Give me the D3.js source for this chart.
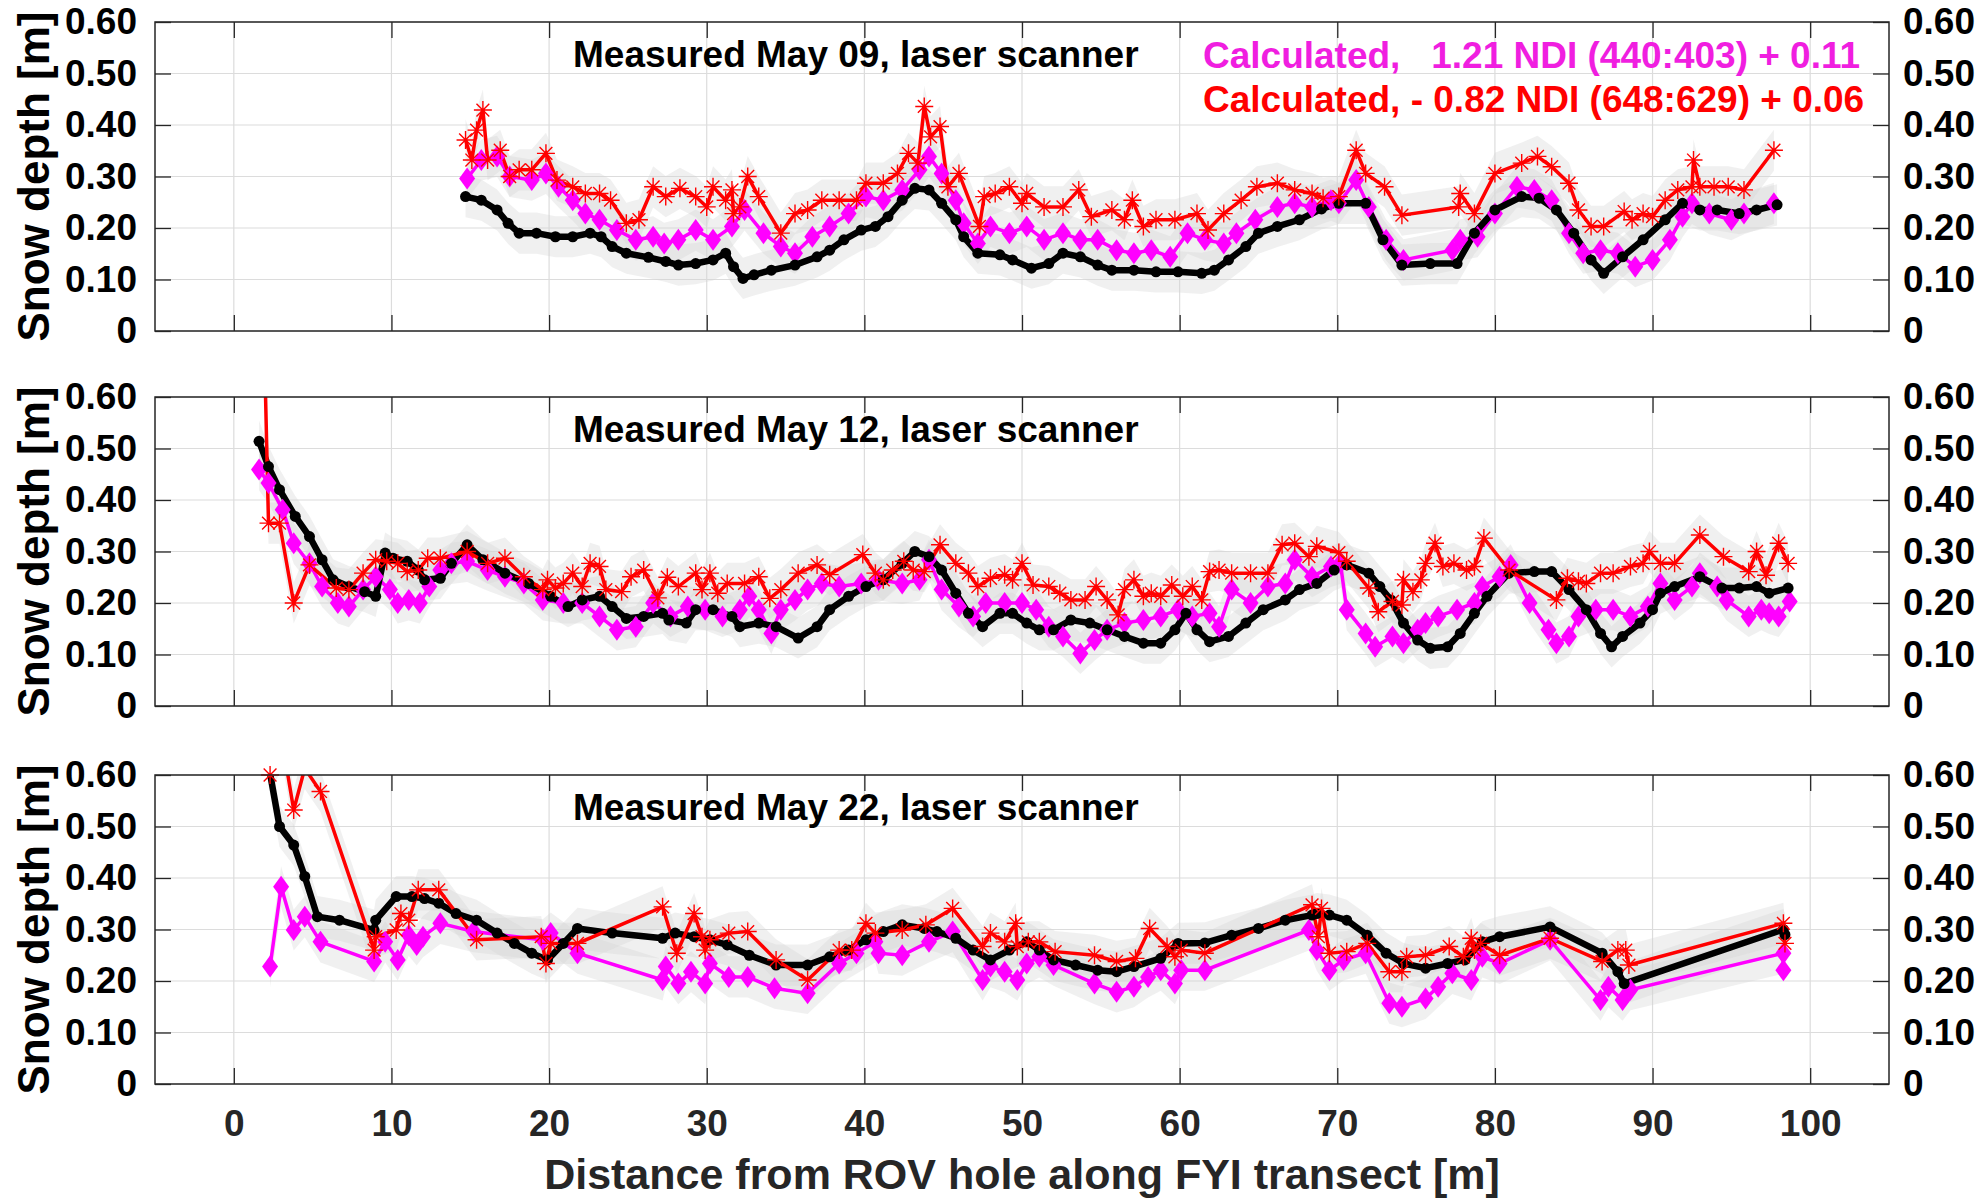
<!DOCTYPE html>
<html lang="en">
<head>
<meta charset="utf-8">
<title>Snow depth along FYI transect</title>
<script src="https://cdn.jsdelivr.net/npm/d3@7"></script>
<style>
  body { margin: 0; background: #fff; }
  svg { font-family: "Liberation Sans", Arial, Helvetica, sans-serif; font-weight: bold; }
  .grid line { stroke: #dcdcdc; stroke-width: 1.2; }
  .axis path { display: none; }
  .axis line { stroke: #262626; stroke-width: 1.3; }
  .ylab text { fill: #000; font-size: 37px; }
  .xlab text { fill: #262626; font-size: 37px; }
</style>
</head>
<body>
<script>
// ---- data: [distance m, snow depth m] ----
var xTicks = [0, 10, 20, 30, 40, 50, 60, 70, 80, 90, 100];
var yTicks = [0, 0.1, 0.2, 0.3, 0.4, 0.5, 0.6];
var yTickLabels = ["0", "0.10", "0.20", "0.30", "0.40", "0.50", "0.60"];

var titles = ["Measured May 09, laser scanner", "Measured May 12, laser scanner", "Measured May 22, laser scanner"];
var legendMagenta = "Calculated,   1.21 NDI (440:403) + 0.11";
var legendRed = "Calculated, - 0.82 NDI (648:629) + 0.06";

var may09Measured = [[14.7,0.261],[15.7,0.254],[16.7,0.235],[17.4,0.209],[18.1,0.190],[19.2,0.190],[20.4,0.183],[21.5,0.183],[22.6,0.190],[23.3,0.183],[24.0,0.164],[24.9,0.151],[26.3,0.143],[27.4,0.135],[28.2,0.128],[29.3,0.131],[30.4,0.138],[31.2,0.151],[31.7,0.125],[32.3,0.102],[33.0,0.109],[34.1,0.118],[35.6,0.128],[37.0,0.144],[37.8,0.157],[38.7,0.177],[39.8,0.196],[40.7,0.203],[41.5,0.222],[42.4,0.254],[43.2,0.277],[44.1,0.274],[44.9,0.248],[45.8,0.216],[46.3,0.183],[47.2,0.151],[48.6,0.148],[49.4,0.138],[50.6,0.122],[51.7,0.131],[52.6,0.151],[53.7,0.144],[54.8,0.128],[55.7,0.118],[57.1,0.118],[58.5,0.115],[59.9,0.115],[61.4,0.112],[62.2,0.118],[63.1,0.138],[64.2,0.164],[65.0,0.190],[66.2,0.203],[67.6,0.216],[69.0,0.237],[70.1,0.248],[71.8,0.248],[72.9,0.177],[74.1,0.128],[75.9,0.131],[77.6,0.131],[78.7,0.190],[80.0,0.235],[81.7,0.261],[82.8,0.258],[83.9,0.235],[85.0,0.190],[86.1,0.138],[86.9,0.112],[88.1,0.144],[89.4,0.177],[90.8,0.216],[91.9,0.248],[93.0,0.235],[94.1,0.235],[95.5,0.228],[96.6,0.235],[97.9,0.245]];
var may09Ndi440 = [[14.8,0.296],[15.7,0.332],[16.7,0.339],[17.5,0.300],[18.9,0.293],[19.8,0.306],[20.6,0.280],[21.5,0.254],[22.3,0.228],[23.2,0.216],[24.3,0.196],[25.5,0.177],[26.6,0.183],[27.3,0.170],[28.2,0.177],[29.3,0.196],[30.4,0.177],[31.6,0.203],[32.4,0.235],[33.6,0.190],[34.7,0.164],[35.6,0.151],[36.7,0.183],[37.8,0.203],[39.0,0.228],[40.1,0.261],[41.2,0.254],[42.4,0.274],[43.5,0.313],[44.1,0.339],[44.9,0.306],[45.8,0.254],[46.3,0.209],[47.2,0.170],[48.0,0.203],[49.2,0.190],[50.3,0.203],[51.4,0.177],[52.6,0.190],[53.7,0.177],[54.8,0.177],[56.0,0.157],[57.1,0.151],[58.2,0.157],[59.4,0.144],[60.5,0.190],[61.6,0.177],[62.8,0.170],[63.6,0.190],[64.8,0.216],[66.2,0.241],[67.3,0.248],[68.4,0.241],[69.6,0.254],[70.1,0.248],[71.2,0.293],[72.0,0.241],[73.1,0.177],[74.2,0.138],[77.3,0.157],[77.8,0.177],[78.9,0.183],[80.0,0.228],[81.4,0.280],[82.5,0.274],[83.6,0.254],[84.7,0.190],[85.6,0.151],[86.7,0.157],[87.8,0.151],[88.9,0.125],[90.0,0.138],[91.1,0.177],[91.9,0.222],[92.5,0.248],[93.6,0.228],[95.0,0.216],[95.8,0.228],[97.7,0.248]];
var may09Ndi648 = [[14.7,0.371],[15.1,0.332],[15.4,0.390],[15.8,0.429],[16.1,0.332],[16.9,0.351],[17.5,0.300],[18.1,0.313],[18.9,0.313],[19.8,0.345],[20.5,0.293],[21.5,0.280],[22.3,0.267],[23.2,0.267],[23.9,0.254],[24.9,0.209],[25.7,0.216],[26.6,0.280],[27.4,0.261],[28.3,0.277],[29.3,0.261],[30.0,0.241],[30.4,0.280],[31.2,0.254],[31.6,0.274],[31.7,0.228],[32.1,0.241],[32.6,0.300],[33.3,0.261],[34.7,0.190],[35.6,0.228],[36.4,0.235],[37.3,0.254],[38.4,0.254],[39.5,0.254],[40.1,0.287],[41.2,0.287],[42.1,0.306],[42.8,0.345],[43.4,0.326],[43.8,0.436],[44.2,0.377],[44.8,0.397],[45.3,0.280],[46.0,0.306],[47.3,0.203],[47.6,0.261],[48.3,0.267],[49.2,0.280],[50.0,0.248],[50.3,0.267],[51.4,0.241],[52.6,0.241],[53.6,0.274],[54.4,0.222],[55.7,0.235],[56.5,0.216],[57.0,0.254],[57.7,0.203],[58.5,0.216],[59.7,0.216],[61.1,0.228],[61.8,0.196],[62.8,0.228],[63.9,0.254],[64.9,0.280],[66.2,0.287],[67.3,0.274],[68.4,0.267],[69.1,0.258],[70.1,0.261],[71.2,0.351],[71.8,0.306],[73.0,0.280],[74.1,0.225],[77.7,0.241],[77.8,0.267],[78.7,0.228],[80.0,0.306],[81.7,0.326],[82.7,0.339],[83.6,0.319],[84.7,0.287],[85.3,0.235],[86.1,0.203],[86.9,0.203],[88.2,0.232],[88.7,0.216],[89.4,0.228],[90.0,0.222],[90.8,0.254],[91.6,0.274],[92.5,0.280],[92.6,0.332],[93.0,0.280],[93.9,0.280],[94.8,0.280],[95.8,0.274],[97.7,0.351]];

var may12Measured = [[1.6,0.514],[2.2,0.465],[2.9,0.420],[3.9,0.368],[4.8,0.329],[5.6,0.284],[6.3,0.245],[7.3,0.232],[8.3,0.222],[9.0,0.213],[9.6,0.297],[10.1,0.287],[11.0,0.281],[11.7,0.264],[12.1,0.245],[13.1,0.248],[13.8,0.277],[14.8,0.313],[15.8,0.284],[17.2,0.258],[18.7,0.238],[20.1,0.213],[21.2,0.193],[22.1,0.206],[23.2,0.213],[24.0,0.193],[24.9,0.170],[26.0,0.174],[27.2,0.180],[27.6,0.167],[28.7,0.161],[29.3,0.187],[30.4,0.187],[31.6,0.174],[32.1,0.154],[33.3,0.161],[34.4,0.154],[35.8,0.132],[37.0,0.154],[37.8,0.187],[39.0,0.213],[40.1,0.232],[41.2,0.245],[42.4,0.277],[43.2,0.300],[44.1,0.290],[44.9,0.264],[45.8,0.219],[46.6,0.180],[47.5,0.154],[48.6,0.180],[49.4,0.180],[50.3,0.161],[51.1,0.148],[52.0,0.148],[53.1,0.167],[54.3,0.161],[55.4,0.148],[56.5,0.135],[57.7,0.122],[58.8,0.122],[59.7,0.148],[60.4,0.180],[61.1,0.148],[61.9,0.125],[63.1,0.135],[64.2,0.161],[65.3,0.187],[66.7,0.206],[67.6,0.226],[68.7,0.238],[69.8,0.264],[70.6,0.274],[72.0,0.258],[72.7,0.232],[73.4,0.206],[74.2,0.161],[75.1,0.128],[75.9,0.112],[77.0,0.115],[77.8,0.141],[78.7,0.180],[79.5,0.213],[80.9,0.258],[82.5,0.261],[83.6,0.261],[84.7,0.226],[85.8,0.187],[86.7,0.141],[87.4,0.115],[88.1,0.135],[89.2,0.161],[90.0,0.187],[90.5,0.219],[91.4,0.232],[93.0,0.251],[94.4,0.229],[95.5,0.229],[96.6,0.232],[97.4,0.219],[98.6,0.229]];
var may12Ndi440 = [[1.6,0.459],[2.2,0.433],[3.1,0.381],[3.8,0.316],[4.8,0.277],[5.6,0.232],[6.6,0.200],[7.3,0.193],[8.2,0.226],[9.0,0.251],[9.9,0.226],[10.4,0.200],[11.1,0.206],[11.8,0.200],[12.4,0.232],[13.1,0.264],[13.8,0.277],[14.8,0.281],[16.1,0.264],[17.2,0.251],[18.4,0.238],[19.6,0.206],[20.9,0.200],[22.1,0.200],[23.2,0.174],[24.3,0.148],[25.5,0.154],[26.6,0.200],[27.7,0.174],[28.8,0.193],[29.9,0.187],[31.0,0.174],[32.1,0.187],[32.7,0.213],[33.3,0.187],[34.1,0.141],[34.7,0.187],[35.6,0.206],[36.4,0.226],[37.3,0.238],[38.4,0.232],[39.8,0.238],[40.9,0.245],[42.4,0.238],[43.5,0.245],[44.1,0.284],[44.9,0.226],[46.0,0.193],[46.9,0.174],[47.7,0.200],[48.9,0.200],[50.0,0.200],[50.9,0.187],[51.7,0.154],[52.6,0.135],[53.7,0.102],[54.6,0.128],[55.4,0.148],[56.5,0.161],[57.7,0.167],[58.8,0.174],[59.9,0.187],[60.8,0.174],[61.9,0.180],[62.5,0.154],[63.3,0.226],[64.5,0.200],[65.6,0.232],[66.7,0.238],[67.3,0.284],[68.4,0.251],[69.6,0.271],[70.2,0.277],[70.6,0.187],[71.8,0.141],[72.4,0.115],[73.5,0.135],[74.2,0.122],[75.1,0.148],[75.6,0.161],[76.4,0.174],[77.6,0.187],[78.7,0.200],[79.2,0.232],[80.3,0.251],[81.0,0.274],[82.2,0.200],[83.4,0.148],[83.9,0.122],[84.7,0.135],[85.3,0.174],[86.4,0.187],[87.5,0.187],[88.6,0.174],[89.7,0.193],[90.5,0.238],[91.4,0.206],[92.5,0.232],[93.0,0.258],[94.1,0.232],[94.7,0.206],[96.1,0.174],[96.9,0.187],[97.4,0.180],[98.0,0.174],[98.7,0.203]];
var may12Ndi648 = [[1.9,0.75],[2.2,0.355],[2.9,0.355],[3.8,0.200],[4.8,0.274],[6.5,0.229],[7.3,0.226],[8.2,0.258],[9.0,0.284],[9.7,0.281],[10.4,0.277],[11.0,0.261],[11.7,0.264],[12.3,0.287],[13.1,0.287],[14.8,0.300],[16.1,0.277],[17.2,0.287],[18.4,0.251],[19.6,0.226],[19.9,0.245],[20.4,0.229],[20.9,0.238],[21.5,0.258],[22.1,0.232],[22.6,0.277],[23.2,0.271],[23.6,0.226],[24.6,0.222],[25.2,0.251],[26.0,0.264],[26.9,0.210],[27.5,0.250],[28.2,0.232],[29.3,0.258],[29.7,0.226],[30.2,0.258],[30.7,0.219],[31.3,0.238],[32.4,0.238],[33.3,0.251],[34.0,0.209],[34.7,0.226],[35.8,0.258],[37.0,0.274],[37.8,0.255],[39.9,0.294],[40.7,0.258],[41.2,0.245],[41.8,0.264],[42.5,0.281],[43.1,0.264],[43.8,0.261],[44.8,0.313],[45.8,0.277],[46.6,0.258],[47.2,0.232],[48.0,0.248],[48.9,0.255],[49.4,0.245],[50.0,0.277],[50.7,0.235],[51.7,0.232],[52.4,0.219],[53.1,0.206],[54.0,0.206],[54.7,0.232],[55.4,0.206],[56.1,0.177],[56.5,0.226],[57.1,0.245],[57.7,0.213],[58.2,0.219],[58.8,0.213],[59.5,0.235],[60.2,0.213],[60.8,0.232],[61.4,0.206],[61.9,0.261],[62.5,0.264],[63.3,0.258],[64.5,0.258],[65.6,0.258],[66.5,0.313],[67.3,0.316],[68.2,0.290],[68.7,0.310],[70.1,0.298],[70.6,0.281],[72.0,0.229],[72.6,0.183],[73.5,0.203],[74.1,0.196],[74.2,0.245],[74.8,0.222],[75.3,0.245],[75.6,0.277],[76.2,0.316],[76.7,0.271],[77.4,0.277],[78.2,0.264],[78.7,0.271],[79.3,0.326],[80.9,0.264],[83.9,0.206],[84.6,0.248],[85.3,0.242],[85.8,0.238],[86.7,0.258],[87.5,0.258],[88.6,0.271],[89.4,0.277],[89.8,0.300],[90.5,0.277],[91.4,0.277],[93.0,0.332],[94.5,0.290],[96.1,0.261],[96.6,0.300],[97.2,0.254],[98.0,0.316],[98.6,0.277]];

var may22Measured = [[2.2,0.620],[2.9,0.500],[3.8,0.464],[4.5,0.403],[5.3,0.325],[6.7,0.318],[8.9,0.299],[9.0,0.318],[10.3,0.364],[11.3,0.364],[12.1,0.360],[13.0,0.351],[14.1,0.331],[15.4,0.318],[16.7,0.293],[17.8,0.273],[18.9,0.254],[19.9,0.241],[20.9,0.273],[21.8,0.302],[24.0,0.293],[27.2,0.283],[28.0,0.293],[29.2,0.286],[30.2,0.280],[31.3,0.270],[32.7,0.250],[34.4,0.231],[36.4,0.231],[37.8,0.247],[39.0,0.260],[40.1,0.280],[41.2,0.296],[42.4,0.309],[43.8,0.302],[44.6,0.296],[45.8,0.283],[46.9,0.260],[48.0,0.241],[49.2,0.260],[50.3,0.276],[51.1,0.260],[52.0,0.241],[53.4,0.231],[54.8,0.221],[56.0,0.218],[57.1,0.228],[58.8,0.244],[59.9,0.273],[61.6,0.274],[63.3,0.289],[65.0,0.302],[66.7,0.318],[68.4,0.328],[68.7,0.331],[69.5,0.328],[70.6,0.318],[71.9,0.289],[73.1,0.254],[74.2,0.234],[75.6,0.225],[77.0,0.234],[78.1,0.241],[79.2,0.276],[80.3,0.286],[83.5,0.305],[86.8,0.254],[87.8,0.218],[88.2,0.195],[98.3,0.300],[98.4,0.290]];
var may22Ndi440 = [[2.3,0.228],[3.0,0.383],[3.8,0.299],[4.5,0.325],[5.5,0.276],[8.9,0.238],[9.6,0.276],[10.4,0.241],[11.1,0.289],[11.6,0.270],[12.0,0.286],[13.1,0.312],[15.2,0.296],[19.6,0.280],[20.1,0.293],[21.8,0.254],[27.2,0.202],[27.4,0.228],[28.2,0.195],[29.0,0.218],[29.9,0.195],[30.2,0.234],[31.4,0.208],[32.6,0.208],[34.3,0.186],[36.4,0.176],[38.4,0.234],[39.5,0.254],[40.7,0.276],[40.9,0.254],[42.4,0.250],[44.1,0.276],[45.6,0.296],[47.5,0.202],[48.0,0.228],[48.9,0.218],[49.7,0.202],[50.3,0.234],[51.1,0.247],[52.0,0.231],[54.6,0.195],[56.0,0.179],[57.1,0.189],[58.0,0.208],[58.8,0.221],[59.7,0.195],[60.1,0.221],[61.6,0.221],[68.2,0.299],[68.7,0.260],[69.5,0.221],[70.4,0.241],[71.8,0.254],[73.3,0.157],[74.1,0.150],[75.6,0.166],[76.4,0.189],[77.3,0.215],[78.5,0.202],[79.2,0.247],[80.3,0.234],[83.5,0.280],[86.7,0.163],[87.2,0.189],[88.1,0.163],[88.6,0.183],[98.3,0.254],[98.3,0.221]];
var may22Ndi648 = [[2.3,0.600],[3.1,0.660],[3.8,0.532],[4.5,0.613],[5.5,0.568],[8.9,0.260],[9.0,0.286],[10.3,0.299],[10.6,0.331],[11.1,0.318],[11.7,0.377],[13.0,0.377],[15.4,0.280],[19.5,0.286],[19.8,0.234],[20.1,0.273],[21.8,0.273],[27.2,0.344],[28.1,0.254],[29.2,0.331],[29.7,0.286],[29.9,0.260],[30.2,0.280],[31.4,0.293],[32.6,0.296],[34.4,0.241],[36.4,0.202],[38.4,0.260],[39.2,0.260],[40.1,0.312],[40.7,0.293],[42.4,0.299],[43.9,0.309],[45.6,0.341],[47.5,0.267],[48.0,0.293],[48.9,0.276],[49.6,0.312],[49.7,0.267],[50.4,0.276],[51.1,0.276],[52.1,0.257],[54.6,0.250],[56.0,0.238],[57.2,0.244],[58.1,0.302],[59.2,0.267],[59.7,0.247],[60.1,0.260],[61.6,0.254],[68.4,0.348],[68.8,0.286],[69.0,0.341],[69.5,0.254],[70.6,0.257],[71.9,0.273],[73.3,0.218],[74.1,0.218],[74.4,0.247],[75.6,0.250],[77.1,0.267],[78.0,0.247],[78.5,0.283],[78.7,0.260],[79.1,0.273],[80.3,0.250],[83.5,0.283],[86.8,0.238],[87.8,0.260],[88.3,0.260],[88.5,0.231],[98.3,0.312],[98.4,0.273]];

var panels = [
  { measured: may09Measured, ndi440: may09Ndi440, ndi648: may09Ndi648 },
  { measured: may12Measured, ndi440: may12Ndi440, ndi648: may12Ndi648 },
  { measured: may22Measured, ndi440: may22Ndi440, ndi648: may22Ndi648 }
];

// grey envelope half width around each curve
var spread = 0.04;

var w = 1982, h = 1200;
var left = 155, right = 1889, panelH = 309;
var panelTops = [22, 397, 775];
var tick = 16;

var svg = d3.select("body").append("svg")
    .attr("width", w)
    .attr("height", h);

var xScale = d3.scaleLinear().domain([-5, 105]).range([left, right]);

var diamond = "M0,-11L8,0L0,11L-8,0Z";
var asterisk = "M-9,0H9M0,-9V9M-6.4,-6.4L6.4,6.4M-6.4,6.4L6.4,-6.4";

panels.forEach(function(p, i) {
  var top = panelTops[i], bottom = top + panelH;
  var yScale = d3.scaleLinear().domain([0, 0.6]).range([bottom, top]);
  var g = svg.append("g");

  g.append("clipPath").attr("id", "clip" + i)
    .append("rect")
      .attr("x", left).attr("y", top)
      .attr("width", right - left).attr("height", panelH);

  // grid
  var grid = g.append("g").attr("class", "grid");
  grid.selectAll(".gx").data(xTicks).enter().append("line")
      .attr("x1", function(d) { return xScale(d); })
      .attr("x2", function(d) { return xScale(d); })
      .attr("y1", top).attr("y2", bottom);
  grid.selectAll(".gy").data(yTicks).enter().append("line")
      .attr("x1", left).attr("x2", right)
      .attr("y1", function(d) { return yScale(d); })
      .attr("y2", function(d) { return yScale(d); });

  var plot = g.append("g").attr("clip-path", "url(#clip" + i + ")");

  var band = d3.area()
      .x(function(d) { return xScale(d[0]); })
      .y0(function(d) { return yScale(d[1] - spread); })
      .y1(function(d) { return yScale(d[1] + spread); });

  [p.ndi440, p.measured, p.ndi648].forEach(function(s) {
    plot.append("path")
        .datum(s)
        .attr("d", band)
        .attr("fill", "#d4d4d4")
        .attr("fill-opacity", 0.35);
  });

  var line = d3.line()
      .x(function(d) { return xScale(d[0]); })
      .y(function(d) { return yScale(d[1]); });

  function inside(s) { return s.filter(function(d) { return d[1] <= 0.61; }); }

  // magenta: NDI (440:403)
  plot.append("path").datum(p.ndi440).attr("d", line)
      .attr("fill", "none").attr("stroke", "#ff00ff").attr("stroke-width", 3.5);
  g.selectAll(".dm").data(inside(p.ndi440)).enter().append("path")
      .attr("d", diamond)
      .attr("transform", function(d) { return "translate(" + xScale(d[0]) + "," + yScale(d[1]) + ")"; })
      .attr("fill", "#ff00ff");

  // black: laser scanner
  plot.append("path").datum(p.measured).attr("d", line)
      .attr("fill", "none").attr("stroke", "#000").attr("stroke-width", 6.5)
      .attr("stroke-linejoin", "round");
  g.selectAll(".dk").data(inside(p.measured)).enter().append("circle")
      .attr("cx", function(d) { return xScale(d[0]); })
      .attr("cy", function(d) { return yScale(d[1]); })
      .attr("r", 5.5)
      .attr("fill", "#000");

  // red: NDI (648:629)
  plot.append("path").datum(p.ndi648).attr("d", line)
      .attr("fill", "none").attr("stroke", "#ff0000").attr("stroke-width", 3.5);
  g.selectAll(".dr").data(inside(p.ndi648)).enter().append("path")
      .attr("d", asterisk)
      .attr("transform", function(d) { return "translate(" + xScale(d[0]) + "," + yScale(d[1]) + ")"; })
      .attr("fill", "none")
      .attr("stroke", "#ff0000")
      .attr("stroke-width", 1.4);

  // box
  g.append("rect")
      .attr("x", left).attr("y", top)
      .attr("width", right - left).attr("height", panelH)
      .attr("fill", "none").attr("stroke", "#262626").attr("stroke-width", 1.5);

  // axes, ticks pointing inward
  g.append("g").attr("class", "axis ylab")
      .attr("transform", "translate(" + left + ",0)")
      .call(d3.axisLeft(yScale).tickValues(yTicks)
        .tickFormat(function(d, k) { return yTickLabels[k]; })
        .tickSizeInner(-tick).tickSizeOuter(0).tickPadding(18));

  g.append("g").attr("class", "axis ylab")
      .attr("transform", "translate(" + right + ",0)")
      .call(d3.axisRight(yScale).tickValues(yTicks)
        .tickFormat(function(d, k) { return yTickLabels[k]; })
        .tickSizeInner(-tick).tickSizeOuter(0).tickPadding(14));

  g.append("g").attr("class", "axis")
      .attr("transform", "translate(0," + top + ")")
      .call(d3.axisTop(xScale).tickValues(xTicks).tickFormat("")
        .tickSizeInner(-tick).tickSizeOuter(0));

  var xAxis = d3.axisBottom(xScale).tickValues(xTicks)
      .tickSizeInner(-tick).tickSizeOuter(0).tickPadding(26);
  if (i < 2) xAxis.tickFormat("");
  g.append("g").attr("class", "axis xlab")
      .attr("transform", "translate(0," + bottom + ")")
      .call(xAxis);

  // y label
  g.append("text")
      .attr("transform", "translate(49," + (top + panelH / 2) + ") rotate(-90)")
      .attr("text-anchor", "middle")
      .style("font-size", "44px")
      .attr("fill", "#000")
      .text("Snow depth [m]");

  // panel title
  g.append("text")
      .attr("x", 573)
      .attr("y", top + 45)
      .style("font-size", "37px")
      .attr("fill", "#000")
      .text(titles[i]);
});

// legend text in top panel
svg.append("text")
    .attr("x", 1203).attr("y", 68)
    .attr("xml:space", "preserve")
    .style("white-space", "pre")
    .style("font-size", "37px")
    .attr("fill", "#f01ee0")
    .text(legendMagenta);

svg.append("text")
    .attr("x", 1203).attr("y", 112)
    .attr("xml:space", "preserve")
    .style("white-space", "pre")
    .style("font-size", "37px")
    .attr("fill", "#ff0000")
    .text(legendRed);

// x label
svg.append("text")
    .attr("x", (left + right) / 2)
    .attr("y", 1189)
    .attr("text-anchor", "middle")
    .style("font-size", "43px")
    .attr("fill", "#262626")
    .text("Distance from ROV hole along FYI transect [m]");
</script>
</body>
</html>
